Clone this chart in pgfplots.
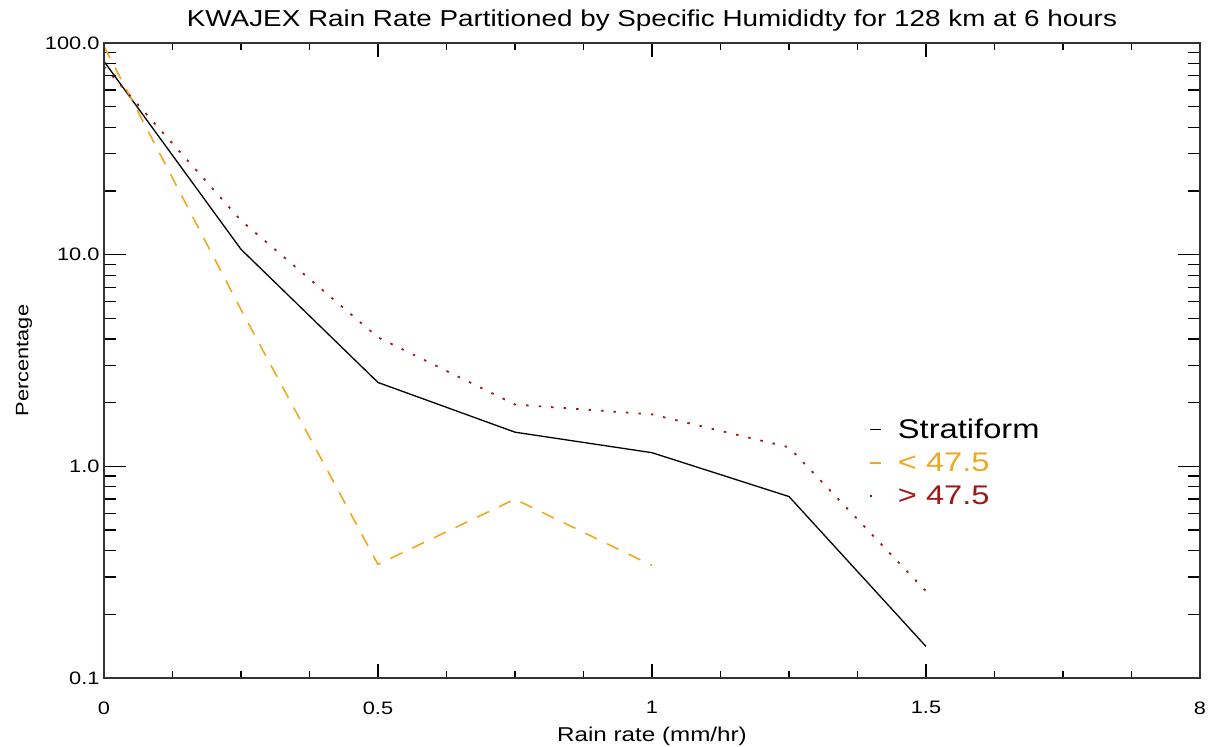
\documentclass[border=0pt]{standalone}
\usepackage{fontspec}
\setmainfont{Liberation Sans}[FakeStretch=1.21]
\usepackage{pgfplots}
\pgfplotsset{compat=1.18}
\definecolor{corange}{HTML}{F0A820}
\definecolor{cred}{HTML}{A01818}
\pgfplotsset{
  idlbase/.style={
    scale only axis,
    width=1096pt, height=635pt,
    at={(0,0)}, anchor=south west,
    axis line style={line width=1.6pt, black!80},
    tick style={line width=1.3pt, black},
    tick align=inside,
    ticklabel style={font=\fontsize{18}{21}\selectfont},
  }
}
\begin{document}
\begin{tikzpicture}[x=1pt,y=1pt]
\useasboundingbox (-104,-69) rectangle (1109,678);
\begin{axis}[
  idlbase,
  ymode=log,
  xmin=0, xmax=2, ymin=0.1, ymax=100,
  xtick=\empty,
  ytick={0.1,1,10,100},
  yticklabels={0.1,1.0,10.0,100.0},
  major tick length=22pt, minor tick length=12pt,
  yticklabel style={xshift=-1pt},
  title={KWAJEX Rain Rate Partitioned by Specific Humididty for 128 km at 6 hours},
  title style={font=\fontsize{23}{26}\selectfont, at={(axis description cs:0.5,1.026)}, anchor=center},
  xlabel={Rain rate (mm/hr)},
  xlabel style={font=\fontsize{20}{24}\selectfont, at={(axis description cs:0.5,-0.092)}, anchor=center},
  ylabel={Percentage},
  ylabel style={font=\fontsize{18}{21}\selectfont, at={(axis description cs:-0.073,0.5)}, anchor=center},
  legend style={at={(axis description cs:0.695,0.415)}, anchor=north west, draw=none, fill=none,
    font=\fontsize{27}{30}\selectfont, row sep=9pt,
    /tikz/every odd column/.append style={column sep=14pt}},
  legend cell align=left,
  legend image code/.code={\draw[#1] (0pt,0pt) -- (11pt,0pt);},
]
\addplot[black, line width=1.3pt] coordinates {
  (0,81.9) (0.25,10.6) (0.5,2.49) (0.75,1.45) (1.0,1.16) (1.25,0.72) (1.5,0.141)
};
\addlegendentry{Stratiform}
\addplot[corange, line width=1.6pt, dash pattern=on 13pt off 11pt,
  legend image post style={solid, line width=2pt}] coordinates {
  (0,96.4) (0.25,5.5) (0.5,0.344) (0.75,0.70) (1.0,0.34)
};
\addlegendentry{\textcolor{corange}{< 47.5}}
\addplot[cred, line width=1.8pt, dash pattern=on 2.5pt off 10pt] coordinates {
  (0,77.5) (0.25,14.5) (0.5,4.07) (0.75,1.96) (1.0,1.76) (1.25,1.23) (1.5,0.257)
};
\addlegendentry{\textcolor{cred}{> 47.5}}
\end{axis}
\begin{axis}[
  idlbase,
  xmin=0, xmax=2, ymin=0, ymax=1,
  xtick={0,0.5,1,1.5,2},
  xticklabels={0,0.5,1,1.5,8},
  minor x tick num=3,
  ytick=\empty,
  major tick length=14pt, minor tick length=7pt,
  xticklabel style={yshift=-20pt},
]
\end{axis}
\end{tikzpicture}
\end{document}
